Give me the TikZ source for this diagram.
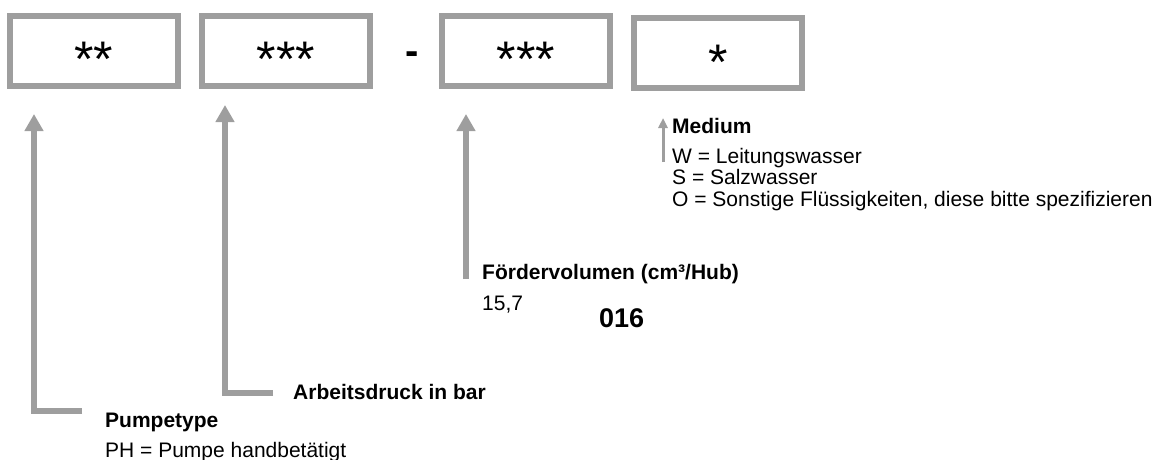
\documentclass[tikz,border=0pt]{standalone}
\usepackage{fontspec}
\setmainfont{Liberation Sans}
\usetikzlibrary{arrows.meta}
\definecolor{lg}{RGB}{158,158,158}
\begin{document}
\begin{tikzpicture}[x=1pt,y=-1pt,
  codebox/.style={draw=lg, line width=6pt, minimum width=168pt, minimum height=70pt, inner sep=0pt},
  star/.style={anchor=base, inner sep=0pt, font=\fontsize{50}{50}\selectfont},
  lbl/.style={anchor=base west, inner sep=0pt, font=\fontsize{21}{21}\selectfont},
  blbl/.style={anchor=base west, inner sep=0pt, font=\fontsize{21}{21}\selectfont\bfseries},
  callout/.style={draw=lg, line width=6pt, line join=miter, -{Triangle[width=18pt,length=17pt]}},
  smallcallout/.style={draw=lg, line width=3pt, -{Triangle[width=9pt,length=10pt]}},
]
\useasboundingbox (0,0) rectangle (1159,460);

% code boxes
\node[codebox] (b1) at (94,51) {};
\node[codebox] (b2) at (286,51) {};
\node[codebox] (b3) at (526,51) {};
\node[codebox] (b4) at (718,53) {};
\node[star] (s1) at (94,77) {**};
\node[star] (s2) at (286,77) {***};
\node[star] (s3) at (526,77) {***};
\node[star] (s4) at (718,79) {*};
\node[anchor=base, inner sep=0pt, font=\fontsize{40}{40}\selectfont\bfseries] (dash) at (412,64) {-};

% arrow ends
\coordinate (t1) at (34,114);
\coordinate (e1) at (82,411);
\coordinate (t2) at (225,105);
\coordinate (e2) at (273,393);
\coordinate (t3) at (466,114);
\coordinate (e3) at (466,279);
\coordinate (t4) at (663,118);
\coordinate (e4) at (663,162);

\draw[callout] (e1) -| (t1);
\draw[callout] (e2) -| (t2);
\draw[callout] (e3) -- (t3);
\draw[smallcallout] (e4) -- (t4);

% labels
\node[blbl] (med) at (672,133) {Medium};
\node[lbl] (mw) at (672,163) {W = Leitungswasser};
\node[lbl] (ms) at (672,184) {S = Salzwasser};
\node[lbl] (mo) at (672,206) {O = Sonstige Flüssigkeiten, diese bitte spezifizieren};

\node[blbl] (fv) at (482,279) {Fördervolumen (cm³/Hub)};
\node[lbl] (fvv) at (482,310) {15,7};
\node[anchor=base west, inner sep=0pt, font=\fontsize{27}{27}\selectfont\bfseries] (code) at (599,327) {016};

\node[blbl] (ad) at (293,399) {Arbeitsdruck in bar};
\node[blbl] (pt) at (105,427) {Pumpetype};
\node[lbl] (ph) at (105,457) {PH = Pumpe handbetätigt};
\end{tikzpicture}
\end{document}
